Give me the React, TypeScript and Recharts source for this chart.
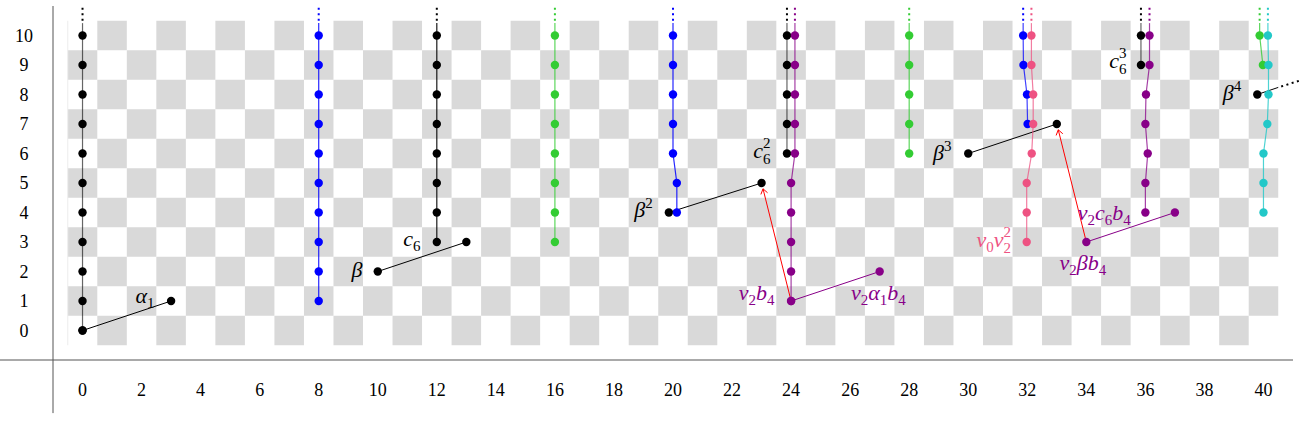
import React from 'react';
import { ScatterChart, Scatter, XAxis, YAxis, ReferenceArea, ReferenceLine } from 'recharts';

// ---------- axes ----------
const xTicks = [0, 2, 4, 6, 8, 10, 12, 14, 16, 18, 20, 22, 24, 26, 28, 30, 32, 34, 36, 38, 40];
const yTicks = [0, 1, 2, 3, 4, 5, 6, 7, 8, 9, 10];
const checkerColumns = [0, 1, 2, 3, 4, 5, 6, 7, 8, 9, 10, 11, 12, 13, 14, 15, 16, 17, 18, 19, 20, 21, 22, 23, 24, 25, 26, 27, 28, 29, 30, 31, 32, 33, 34, 35, 36, 37, 38, 39, 40];
const checkerRows = [0, 1, 2, 3, 4, 5, 6, 7, 8, 9, 10];

// ---------- towers ----------
const towerT0 = [
  { x: 0, y: 10 }, { x: 0, y: 9 }, { x: 0, y: 8 }, { x: 0, y: 7 }, { x: 0, y: 6 }, { x: 0, y: 5 },
  { x: 0, y: 4 }, { x: 0, y: 3 }, { x: 0, y: 2 }, { x: 0, y: 1 }, { x: 0, y: 0 },
];
const towerT8 = [
  { x: 8, y: 10 }, { x: 8, y: 9 }, { x: 8, y: 8 }, { x: 8, y: 7 }, { x: 8, y: 6 }, { x: 8, y: 5 },
  { x: 8, y: 4 }, { x: 8, y: 3 }, { x: 8, y: 2 }, { x: 8, y: 1 },
];
const towerT12 = [
  { x: 12, y: 10 }, { x: 12, y: 9 }, { x: 12, y: 8 }, { x: 12, y: 7 }, { x: 12, y: 6 }, { x: 12, y: 5 },
  { x: 12, y: 4 }, { x: 12, y: 3 },
];
const towerT16 = [
  { x: 16, y: 10 }, { x: 16, y: 9 }, { x: 16, y: 8 }, { x: 16, y: 7 }, { x: 16, y: 6 }, { x: 16, y: 5 },
  { x: 16, y: 4 }, { x: 16, y: 3 },
];
const towerT20 = [
  { x: 20, y: 10 }, { x: 20, y: 9 }, { x: 20, y: 8 }, { x: 20, y: 7 }, { x: 20, y: 6 },
  { x: 20.13, y: 5 }, { x: 20.13, y: 4 },
];
const towerT24Black = [
  { x: 23.86, y: 10 }, { x: 23.86, y: 9 }, { x: 23.86, y: 8 }, { x: 23.86, y: 7 }, { x: 23.86, y: 6 },
];
const towerT24Purple = [
  { x: 24.13, y: 10 }, { x: 24.13, y: 9 }, { x: 24.13, y: 8 }, { x: 24.13, y: 7 }, { x: 24.13, y: 6 },
  { x: 24, y: 5 }, { x: 24, y: 4 }, { x: 24, y: 3 }, { x: 24, y: 2 }, { x: 24, y: 1 },
];
const towerT28 = [
  { x: 28, y: 10 }, { x: 28, y: 9 }, { x: 28, y: 8 }, { x: 28, y: 7 }, { x: 28, y: 6 },
];
const towerT32Blue = [
  { x: 31.86, y: 10 }, { x: 31.87, y: 9 }, { x: 31.99, y: 8 }, { x: 32.01, y: 7 },
];
const towerT32Pink = [
  { x: 32.14, y: 10 }, { x: 32.14, y: 9 }, { x: 32.2, y: 8 }, { x: 32.2, y: 7 }, { x: 32.15, y: 6 },
  { x: 31.98, y: 5 }, { x: 31.98, y: 4 }, { x: 31.98, y: 3 },
];
const towerT36Black = [{ x: 35.85, y: 10 }, { x: 35.85, y: 9 }];
const towerT36Purple = [
  { x: 36.14, y: 10 }, { x: 36.14, y: 9 }, { x: 36.02, y: 8 }, { x: 36, y: 7 }, { x: 36.08, y: 6 },
  { x: 36, y: 5 }, { x: 36, y: 4 },
];
const towerT40Green = [{ x: 39.87, y: 10 }, { x: 39.98, y: 9 }];
const towerT40Cyan = [
  { x: 40.15, y: 10 }, { x: 40.17, y: 9 }, { x: 40.17, y: 8 }, { x: 40.13, y: 7 }, { x: 40, y: 6 },
  { x: 40, y: 5 }, { x: 40, y: 4 },
];

// ---------- products (links) ----------
const alpha1Link = [{ x: 0, y: 0 }, { x: 3, y: 1 }];
const betaLink = [{ x: 10, y: 2 }, { x: 13, y: 3 }];
const beta2Link = [{ x: 19.86, y: 4 }, { x: 23, y: 5 }];
const beta3Link = [{ x: 30, y: 6 }, { x: 33, y: 7 }];
const v2b4Link = [{ x: 24, y: 1 }, { x: 27, y: 2 }];
const v2betab4Link = [{ x: 34, y: 3 }, { x: 37, y: 4 }];
const beta4Dot = [{ x: 39.79, y: 8 }];
const beta4Ray = [{ x: 39.79, y: 8 }, { x: 40.5, y: 8.24 }];
const beta4RayDots = [{ x: 40.6, y: 8.27 }, { x: 41.25, y: 8.48 }];

// ---------- differentials ----------
const differentials = [
  { from: { x: 24, y: 1 }, to: { x: 23, y: 5 } },
  { from: { x: 34, y: 3 }, to: { x: 33, y: 7 } },
];

// ---------- labels ----------
type Part = [string, string] | [string[], string];
const labels: { x: number; y: number; anchor: string; color: string; parts: Part[] }[] = [
  { x: 2.44, y: 0.93, anchor: 'end', color: 'black', parts: [['α', 'm'], ['1', 'sub']] },
  { x: 9.48, y: 1.81, anchor: 'end', color: 'black', parts: [['β', 'm']] },
  { x: 11.45, y: 2.86, anchor: 'end', color: 'black', parts: [['c', 'm'], ['6', 'sub']] },
  { x: 19.31, y: 3.84, anchor: 'end', color: 'black', parts: [['β', 'm'], ['2', 'sup']] },
  { x: 23.3, y: 5.85, anchor: 'end', color: 'black', parts: [['c', 'm'], [['6', '2'], 'subsup']] },
  { x: 23.44, y: 1.03, anchor: 'end', color: 'purple', parts: [['v', 'm'], ['2', 'sub'], ['b', 'm'], ['4', 'sub']] },
  { x: 26.03, y: 1.03, anchor: 'start', color: 'purple', parts: [['v', 'm'], ['2', 'sub'], ['α', 'm'], ['1', 'sub'], ['b', 'm'], ['4', 'sub']] },
  { x: 29.43, y: 5.78, anchor: 'end', color: 'black', parts: [['β', 'm'], ['3', 'sup']] },
  { x: 31.45, y: 2.84, anchor: 'end', color: 'pink', parts: [['v', 'm'], ['0', 'sub'], ['v', 'm'], [['2', '2'], 'subsup']] },
  { x: 33.71, y: 3.75, anchor: 'start', color: 'purple', parts: [['v', 'm'], ['2', 'sub'], ['c', 'm'], ['6', 'sub'], ['b', 'm'], ['4', 'sub']] },
  { x: 33.09, y: 2.05, anchor: 'start', color: 'purple', parts: [['v', 'm'], ['2', 'sub'], ['β', 'm'], ['b', 'm'], ['4', 'sub']] },
  { x: 35.36, y: 8.9, anchor: 'end', color: 'black', parts: [['c', 'm'], [['6', '3'], 'subsup']] },
  { x: 39.25, y: 7.8, anchor: 'end', color: 'black', parts: [['β', 'm'], ['4', 'sup']] },
];

// ---------- styles ----------
const COLORS: Record<string, string> = {
  black: '#000000',
  blue: '#0000ff',
  green: '#33cc33',
  purple: '#880088',
  pink: '#ee5282',
  cyan: '#22c8c8',
  red: '#ff0000',
};
const FONT = '"Liberation Serif", "DejaVu Serif", serif';
const AXIS_COLOR = '#555555';
const CHECKER = '#d9d9d9';
const DOT_R = 4.2;
const MAIN_SIZE = 22;
const SCRIPT_SIZE = 15;

const towerSeries = [
  { data: towerT0, color: 'black', op: 0.6 },
  { data: towerT8, color: 'blue', op: 0.85 },
  { data: towerT12, color: 'black', op: 0.9 },
  { data: towerT16, color: 'green', op: 0.8 },
  { data: towerT20, color: 'blue', op: 0.85 },
  { data: towerT24Black, color: 'black', op: 0.6 },
  { data: towerT24Purple, color: 'purple', op: 0.75 },
  { data: towerT28, color: 'green', op: 0.8 },
  { data: towerT32Blue, color: 'blue', op: 0.75 },
  { data: towerT32Pink, color: 'pink', op: 0.75 },
  { data: towerT36Black, color: 'black', op: 0.6 },
  { data: beta4Dot, color: 'black', op: 1 },
  { data: towerT36Purple, color: 'purple', op: 0.75 },
  { data: towerT40Green, color: 'green', op: 0.8 },
  { data: towerT40Cyan, color: 'cyan', op: 0.8 },
];

const linkSeries = [
  { data: alpha1Link, color: 'black' },
  { data: betaLink, color: 'black' },
  { data: beta2Link, color: 'black' },
  { data: beta3Link, color: 'black' },
  { data: v2b4Link, color: 'purple' },
  { data: v2betab4Link, color: 'purple' },
];

const makeDot = (color: string) => (props: any) => {
  if (props.cx == null || props.cy == null) return <g />;
  return <circle cx={props.cx} cy={props.cy} r={DOT_R} fill={COLORS[color]} />;
};

const LabelShape = (props: any) => {
  const { cx, cy, payload } = props;
  if (cx == null || !payload) return <g />;
  const color = COLORS[payload.color];
  const kids: React.ReactNode[] = [];
  let shift = 0;
  payload.parts.forEach((p: any, i: number) => {
    const [t, kind] = p;
    if (kind === 'm') {
      kids.push(<tspan key={i} dy={-shift} fontSize={MAIN_SIZE} fontStyle="italic">{t}</tspan>);
      shift = 0;
    } else if (kind === 'sub') {
      kids.push(<tspan key={i} dy={5 - shift} fontSize={SCRIPT_SIZE} fontStyle="normal">{t}</tspan>);
      shift = 5;
    } else if (kind === 'sup') {
      kids.push(<tspan key={i} dy={-9 - shift} fontSize={SCRIPT_SIZE} fontStyle="normal">{t}</tspan>);
      shift = -9;
    } else if (kind === 'subsup') {
      kids.push(<tspan key={i + 'a'} dy={-10 - shift} fontSize={SCRIPT_SIZE} fontStyle="normal">{t[1]}</tspan>);
      kids.push(<tspan key={i + 'b'} dx={-7.5} dy={16} fontSize={SCRIPT_SIZE} fontStyle="normal">{t[0]}</tspan>);
      shift = 6;
    }
  });
  return (
    <text x={cx} y={cy} textAnchor={payload.anchor} fill={color} fontFamily={FONT}>
      {kids}
    </text>
  );
};

const ArrowShape = (props: any) => {
  const { x1, y1, x2, y2, stroke } = props;
  if ([x1, y1, x2, y2].some((v) => v == null || isNaN(v))) return <g />;
  const dx = x2 - x1;
  const dy = y2 - y1;
  const len = Math.hypot(dx, dy) || 1;
  const ux = dx / len;
  const uy = dy / len;
  const tx = x2 - ux * 6;
  const ty = y2 - uy * 6;
  const hl = 6;
  const ang = (35 * Math.PI) / 180;
  const bx = -ux;
  const by = -uy;
  const ax1 = tx + hl * (bx * Math.cos(ang) - by * Math.sin(ang));
  const ay1 = ty + hl * (bx * Math.sin(ang) + by * Math.cos(ang));
  const ax2 = tx + hl * (bx * Math.cos(-ang) - by * Math.sin(-ang));
  const ay2 = ty + hl * (bx * Math.sin(-ang) + by * Math.cos(-ang));
  return (
    <g>
      <line x1={x1} y1={y1} x2={tx} y2={ty} stroke={stroke} strokeWidth={1} />
      <path d={`M${ax1},${ay1} L${tx},${ty} L${ax2},${ay2}`} fill="none" stroke={stroke} strokeWidth={1} />
    </g>
  );
};

const XTick = (props: any) => (
  <text x={props.x} y={props.y + 36} textAnchor="middle" fontSize={18} fontFamily={FONT} fill="#000">
    {props.payload.value}
  </text>
);

const YTick = (props: any) => (
  <text x={props.x - 29} y={props.y + 6} textAnchor="middle" fontSize={18} fontFamily={FONT} fill="#000">
    {props.payload.value}
  </text>
);

const TAIL_SOLID_END = 10.42;
const TAIL_DOT_START = 10.5;
const TAIL_DOT_END = 11.05;

export default function App() {
  const topsOf = (data: { x: number; y: number }[]) => data.filter((p) => p.y === 10);
  return (
    <div style={{ position: 'absolute', left: 0, top: 0, width: 1300, height: 443, background: '#fff' }}>
      <ScatterChart width={1300} height={443} margin={{ top: 6, right: 7, bottom: 33, left: 13 }}>
        <XAxis
          type="number"
          dataKey="x"
          domain={[-1, 41]}
          allowDataOverflow
          ticks={xTicks}
          interval={0}
          axisLine={false}
          tickLine={false}
          tickSize={0}
          tickMargin={0}
          height={50}
          tick={XTick}
        />
        <YAxis
          type="number"
          dataKey="y"
          domain={[-1, 11]}
          allowDataOverflow
          ticks={yTicks}
          interval={0}
          axisLine={false}
          tickLine={false}
          tickSize={0}
          tickMargin={0}
          width={40}
          tick={YTick}
        />
        {checkerColumns.map((c) =>
          checkerRows
            .filter((r) => (c + r) % 2 === 1)
            .map((r) => (
              <ReferenceArea
                key={`cell-${c}-${r}`}
                x1={c - 0.5}
                x2={c + 0.5}
                y1={r - 0.5}
                y2={r + 0.5}
                fill={CHECKER}
                fillOpacity={1}
                stroke="none"
                ifOverflow="visible"
              />
            ))
        )}
        <ReferenceLine
          segment={[{ x: -0.5, y: -0.5 }, { x: -0.5, y: 10.5 }]}
          stroke="#ececec"
          strokeWidth={1}
          ifOverflow="visible"
        />
        <ReferenceLine
          segment={[{ x: -1, y: -2.8 }, { x: -1, y: 11 }]}
          stroke={AXIS_COLOR}
          strokeWidth={1}
          ifOverflow="visible"
        />
        <ReferenceLine
          segment={[{ x: -2.8, y: -1 }, { x: 41, y: -1 }]}
          stroke={AXIS_COLOR}
          strokeWidth={1}
          ifOverflow="visible"
        />
        {towerSeries.flatMap((s, i) =>
          topsOf(s.data).flatMap((p, j) => [
            <ReferenceLine
              key={`ts-${i}-${j}`}
              segment={[{ x: p.x, y: p.y }, { x: p.x, y: TAIL_SOLID_END }]}
              stroke={COLORS[s.color]}
              strokeOpacity={s.op}
              strokeWidth={1.2}
              ifOverflow="visible"
            />,
            <ReferenceLine
              key={`td-${i}-${j}`}
              segment={[{ x: p.x, y: TAIL_DOT_START }, { x: p.x, y: TAIL_DOT_END }]}
              stroke={COLORS[s.color]}
              strokeWidth={2}
              strokeDasharray="2 3.5"
              ifOverflow="visible"
            />,
          ])
        )}
        <ReferenceLine
          segment={[beta4Ray[0], beta4Ray[1]]}
          stroke={COLORS.black}
          strokeWidth={1}
          ifOverflow="visible"
        />
        <ReferenceLine
          segment={[beta4RayDots[0], beta4RayDots[1]]}
          stroke={COLORS.black}
          strokeWidth={2}
          strokeDasharray="2 3.5"
          ifOverflow="visible"
        />
        {differentials.map((d, i) => (
          <ReferenceLine
            key={`diff-${i}`}
            segment={[d.from, d.to]}
            stroke={COLORS.red}
            ifOverflow="visible"
            shape={ArrowShape}
          />
        ))}
        {linkSeries.map((s, i) => (
          <Scatter
            key={`link-${i}`}
            data={s.data}
            line={{ stroke: COLORS[s.color], strokeWidth: 1 }}
            lineType="joint"
            shape={makeDot(s.color)}
            fill={COLORS[s.color]}
            isAnimationActive={false}
          />
        ))}
        {towerSeries.map((s, i) => (
          <Scatter
            key={`tower-${i}`}
            data={s.data}
            line={{ stroke: COLORS[s.color], strokeWidth: 1.2, strokeOpacity: s.op }}
            lineType="joint"
            shape={makeDot(s.color)}
            fill={COLORS[s.color]}
            isAnimationActive={false}
          />
        ))}
        <Scatter data={labels} shape={LabelShape} isAnimationActive={false} fill="none" />
      </ScatterChart>
    </div>
  );
}
